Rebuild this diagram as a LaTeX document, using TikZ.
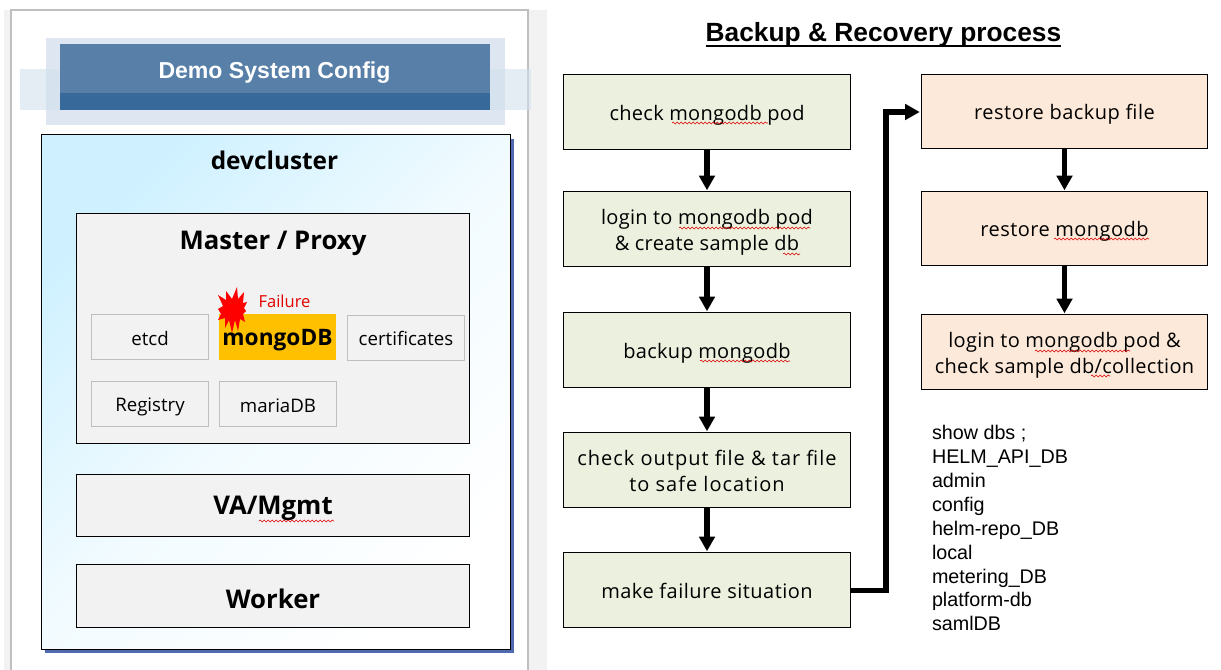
\documentclass[tikz,border=0pt]{standalone}
\usepackage{fontspec}
\setmainfont{Open Sans}
\newfontfamily\arialf{Liberation Sans}
\usetikzlibrary{arrows.meta,decorations.pathmorphing}
\definecolor{pgback}{HTML}{F2F2F2}
\definecolor{frameg}{HTML}{BFBFBF}
\definecolor{bandc}{HTML}{DEE7F1}
\definecolor{sidec}{HTML}{D3E0EE}
\definecolor{headc}{HTML}{577FA8}
\definecolor{headd}{HTML}{376A9A}
\definecolor{skyc}{HTML}{CFF1FF}
\definecolor{shadowc}{HTML}{4F6AAE}
\definecolor{greenc}{HTML}{EBF1DE}
\definecolor{peachc}{HTML}{FDE9D9}
\definecolor{goldc}{HTML}{FFC000}
\tikzset{
  x=0.75pt,y=-0.75pt,
  every node/.style={inner sep=0pt,outer sep=0pt},
  grpbox/.style={draw=black,line width=0.75pt,fill=pgback},
  tagbox/.style={draw=frameg,line width=0.75pt,fill=pgback},
  goldbox/.style={draw=goldc,line width=0.75pt,fill=goldc},
  flowa/.style={draw=black,line width=0.75pt,fill=greenc},
  flowb/.style={draw=black,line width=0.75pt,fill=peachc},
  grptxt/.style={font=\bfseries\fontsize{19.3}{24}\selectfont},
  tagtxt/.style={font=\fontsize{14}{17}\selectfont},
  goldtxt/.style={font=\bfseries\fontsize{17}{20}\selectfont},
  flowtxt/.style={align=center,font=\fontsize{15}{19.5}\selectfont\addfontfeatures{LetterSpace=#1}},
  link/.style={draw=black,line width=3.9pt,shorten >=1pt,-{Triangle[length=11pt,width=11.5pt]}},
  spell/.style={draw=red!85!black,line width=0.4pt,decorate,decoration={snake,segment length=3pt,amplitude=0.7pt}},
}
% box style, text style, x1, y1, x2, y2, name, text shift, text
\newcommand{\boxat}[9]{\node[#1,minimum width=#5*0.75pt-#3*0.75pt-0.2pt,minimum height=#6*0.75pt-#4*0.75pt-0.5pt,
  label={[#2,yshift=#8]center:{#9}}] (#7) at ({(#3+#5)/2},{(#4+#6)/2+0.3}) {};}
\begin{document}
\begin{tikzpicture}
\useasboundingbox (0,0) rectangle (1221,670);
\fill[white] (0,0) rectangle (1221,670);
% page
\fill[pgback] (4,10) rectangle (547,670);
\draw[draw=frameg,line width=1.1pt,fill=white] (11,670) -- (11,10) -- (528,10) -- (528,670);
% header
\fill[bandc] (46,38) rectangle (505,125);
\fill[headc] (60,44) rectangle (490,93);
\fill[sidec,opacity=0.6] (20,69) rectangle (531,110);
\fill[headc] (60,69) rectangle (490,93);
\fill[headd] (60,93) rectangle (490,110);
\node[text=white,font=\arialf\bfseries\fontsize{17.3}{20}\selectfont] (head) at (274.5,72.5) {Demo System Config};
% devcluster
\fill[shadowc] (45,139) rectangle (514,653);
\shade[left color=skyc,right color=white,middle color=skyc!28!white,shading angle=45] (41,135) rectangle (510,649);
\draw[black,line width=0.75pt] (41,135) rectangle (510,649);
\node[font=\bfseries\fontsize{18.3}{24}\selectfont] (dev) at (274.5,160.5) {devcluster};
% groups
\boxat{grpbox}{grptxt}{76}{213}{470}{444}{master}{0pt}{};
\node[grptxt] (mastert) at (273,243) {Master / Proxy};
\boxat{grpbox}{grptxt}{76}{474}{470}{537}{va}{-2.2pt}{VA/Mgmt};
\boxat{grpbox}{grptxt}{76}{564}{470}{628}{worker}{-2.2pt}{Worker};
% tags
\boxat{tagbox}{tagtxt}{91}{314}{209}{360}{etcd}{-0.8pt}{etcd};
\boxat{goldbox}{goldtxt}{219}{314}{336}{360}{mongo}{-1.8pt}{mongoDB};
\boxat{tagbox}{tagtxt}{347}{315}{465}{361}{cert}{-0.3pt}{certificates};
\boxat{tagbox}{tagtxt}{91}{381}{209}{427}{reg}{-2pt}{Registry};
\boxat{tagbox}{tagtxt}{219}{381}{337}{427}{maria}{-0.8pt}{mariaDB};
\node[text=red!90!black,font=\fontsize{12.4}{14}\selectfont] (fail) at (284.5,301.5) {Failure};
% starburst
\fill[red] (237,287) -- (238,299) -- (244,292) -- (243,303) -- (247,302) -- (244,308)
  -- (246,311) -- (243,314) -- (245,322) -- (240,319) -- (238,331) -- (235,320) -- (232,333)
  -- (229,320) -- (225,328) -- (225,318) -- (218,320) -- (221,314) -- (218,309) -- (223,306)
  -- (218,295) -- (226,300) -- (226,291) -- (232,299) -- cycle;
\draw[spell] (259,521) -- (334,521);
% title
\node[font=\arialf\bfseries\fontsize{19.75}{24}\selectfont] (title) at (883.5,34.5) {Backup \& Recovery process};
\draw[black,line width=1pt] (706,46) -- (1061,46);
% flow left
\boxat{flowa}{flowtxt=1.6}{563}{74}{851}{150}{a1}{-2.2pt}{check mongodb pod};
\boxat{flowa}{flowtxt=1.4}{563}{191}{851}{267}{a2}{-2.2pt}{login to mongodb pod\\\& create sample db};
\boxat{flowa}{flowtxt=1.5}{563}{312}{851}{388}{a3}{-2.2pt}{backup mongodb};
\boxat{flowa}{flowtxt=5}{563}{432}{851}{508}{a4}{-0.8pt}{check output file \& tar file\\to safe location};
\boxat{flowa}{flowtxt=2.4}{563}{552}{851}{628}{a5}{-0.3pt}{make failure situation};
% flow right
\boxat{flowb}{flowtxt=2.5}{921}{74}{1208}{149}{b1}{-2.2pt}{restore backup file};
\boxat{flowb}{flowtxt=2.2}{921}{191}{1208}{266}{b2}{-2.2pt}{restore mongodb};
\boxat{flowb}{flowtxt=1.6}{921}{314}{1208}{390}{b3}{-2.2pt}{login to mongodb pod \&\\check sample db/collection};
% connectors
\draw[link] (a1) -- (a2);
\draw[link] (a2) -- (a3);
\draw[link] (a3) -- (a4);
\draw[link] (a4) -- (a5);
\draw[link] (b1) -- (b2);
\draw[link] (b2) -- (b3);
\draw[link] (a5.east) -| (886,112) -- (b1.west |- 0,112);
% squiggles
\draw[spell] (672,123) -- (768,123);
\draw[spell] (679,228) -- (810,228);
\draw[spell] (783,254) -- (800,254);
\draw[spell] (700,361) -- (790,361);
\draw[spell] (1054,239) -- (1149,239);
\draw[spell] (1035,351) -- (1130,351);
\draw[spell] (1091,376) -- (1110,376);
% list
\node[anchor=north west,align=left,font=\arialf\fontsize{14.8}{17.9}\selectfont] (dbs) at (932,425.5) {show dbs ;\\HELM\_API\_DB\\admin\\config\\helm-repo\_DB\\local\\metering\_DB\\platform-db\\samlDB};
\end{tikzpicture}
\end{document}
